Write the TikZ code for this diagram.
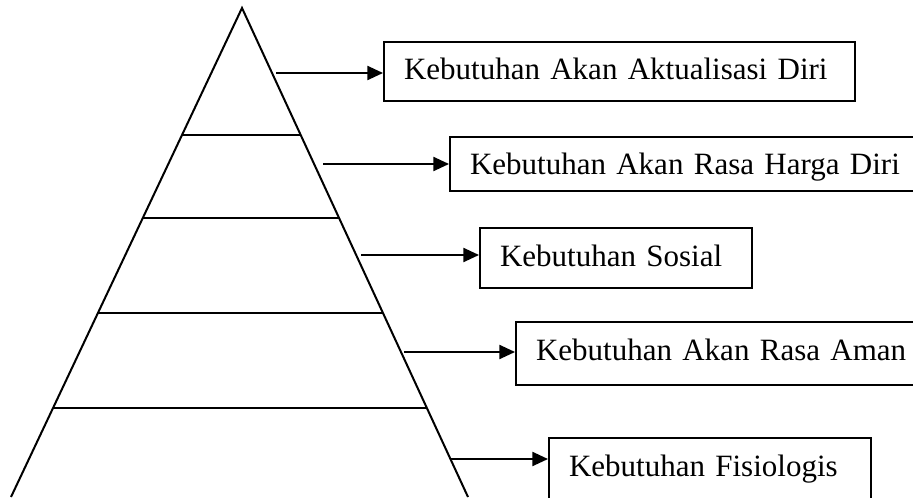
\documentclass[tikz,border=0pt]{standalone}
\usepackage{fontspec}
\setmainfont{Liberation Serif}
\usetikzlibrary{arrows.meta,calc}
\tikzset{
    needbox/.style={draw, line width=1pt, anchor=north west, inner xsep=10pt, inner ysep=0pt,
        text height=19pt, align=left, font=\fontsize{15.5}{18}\selectfont},
    pointer/.style={-{Triangle[length=7.8pt,width=7pt]}, line width=1pt}
}
\begin{document}
\begin{tikzpicture}[x=0.5pt,y=-0.5pt]
        \clip (0,0) rectangle (913,497);

        %pyramid
        \coordinate (top) at (242,8);
        \coordinate (baseL) at (11,497);
        \coordinate (baseR) at (468,497);
        \draw[line width=1pt] (baseL)--(top)--(baseR);
        \foreach \t in {0.2597,0.4294,0.6237,0.818}
            \draw[line width=1pt] ($(top)!\t!(baseL)$)--($(top)!\t!(baseR)$);

        %boxes
        \node[needbox, text width=215.5pt, text depth=10.5pt] (b1) at (383,41) {Kebutuhan Akan Aktualisasi Diri};
        \node[needbox, text width=225.5pt, text depth=8pt] (b2) at (449,136) {Kebutuhan Akan Rasa Harga Diri};
        \node[needbox, text width=116pt, text depth=11pt] (b3) at (479,227) {Kebutuhan Sosial};
        \node[needbox, text width=192.5pt, text depth=12.5pt] (b4) at (515,321) {Kebutuhan Akan Rasa Aman};
        \node[needbox, text width=141pt, text depth=40pt] (b5) at (548,437) {Kebutuhan Fisiologis};

        %arrows
        \coordinate (a1) at (276,73);
        \coordinate (a2) at (323,164);
        \coordinate (a3) at (361,255);
        \coordinate (a4) at (404,352);
        \coordinate (a5) at (450,459);
        \draw[pointer] (a1)--(a1 -| b1.west);
        \draw[pointer] (a2)--(a2 -| b2.west);
        \draw[pointer] (a3)--(a3 -| b3.west);
        \draw[pointer] (a4)--(a4 -| b4.west);
        \draw[pointer] (a5)--(a5 -| b5.west);
    \end{tikzpicture}
\end{document}
